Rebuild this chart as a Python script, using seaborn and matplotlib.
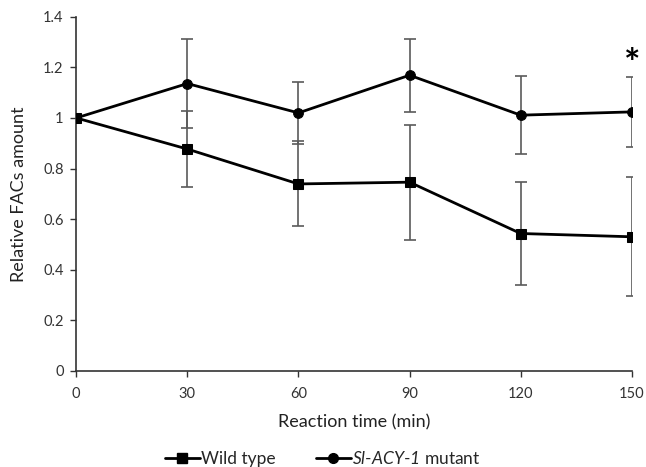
import pandas as pd
import numpy as np
import seaborn as sns
import matplotlib.pyplot as plt
from matplotlib.ticker import FuncFormatter

# values
time = [0, 30, 60, 90, 120, 150]
wild = [1.0, 0.877, 0.739, 0.746, 0.543, 0.530]
wild_err = [0.0, 0.152, 0.168, 0.228, 0.204, 0.235]
mutant = [1.0, 1.136, 1.020, 1.169, 1.011, 1.024]
mutant_err = [0.0, 0.175, 0.122, 0.144, 0.154, 0.139]
x_ticks = [0, 30, 60, 90, 120, 150]
y_ticks = [0, 0.2, 0.4, 0.6, 0.8, 1.0, 1.2, 1.4]

sns.set_style("white")
plt.rcParams['font.family'] = ['Lato', 'DejaVu Sans']
plt.rcParams['mathtext.fontset'] = 'custom'
plt.rcParams['mathtext.it'] = 'Lato:italic'
plt.rcParams['mathtext.rm'] = 'Lato:italic'

df = pd.DataFrame({
    "time": time * 2,
    "amount": wild + mutant,
    "group": ["Wild type"] * len(time) + ["mutant"] * len(time),
})

fig, ax = plt.subplots(figsize=(6.46, 4.67), dpi=100)
fig.subplots_adjust(left=0.118, right=0.978, top=0.964, bottom=0.206)

# error bars first, gray
ax.errorbar(time, wild, yerr=wild_err, fmt="none", ecolor="#5a5a5a",
            elinewidth=1.2, capsize=4, capthick=1.2, zorder=1)
ax.errorbar(time, mutant, yerr=mutant_err, fmt="none", ecolor="#5a5a5a",
            elinewidth=1.2, capsize=4, capthick=1.2, zorder=1)

sns.lineplot(data=df, x="time", y="amount", hue="group", style="group",
             markers={"Wild type": "s", "mutant": "o"}, dashes=False,
             palette={"Wild type": "black", "mutant": "black"},
             markersize=7, linewidth=2, markeredgecolor="black",
             ax=ax, legend=False, zorder=3)

ax.set_xlim(0, 150)
ax.set_ylim(0, 1.4)
ax.set_xticks(x_ticks)
ax.set_yticks(y_ticks)
ax.yaxis.set_major_formatter(FuncFormatter(lambda v, p: f"{v:g}"))
ax.tick_params(axis="both", labelsize=10.5, colors="#333333", length=4,
               width=1, direction="out", bottom=True, left=True)
ax.tick_params(axis="x", pad=8)
ax.tick_params(axis="y", pad=5)
for s in ["top", "right"]:
    ax.spines[s].set_visible(False)
for s in ["left", "bottom"]:
    ax.spines[s].set_color("#333333")
    ax.spines[s].set_linewidth(1.2)

ax.set_xlabel("Reaction time (min)", fontsize=13, color="#222222", labelpad=9)
ax.set_ylabel("Relative FACs amount", fontsize=13, color="#222222", labelpad=12)

# significance mark
ax.text(150, 1.21, "*", ha="center", va="center",
        fontsize=28, fontweight="bold", color="black", clip_on=False)

h1, = ax.plot([], [], color="black", marker="s", markersize=7, linewidth=2)
h2, = ax.plot([], [], color="black", marker="o", markersize=7, linewidth=2)
fig.legend([h1, h2], ["Wild type", r"$Sl$-$ACY$-$1$ mutant"],
           loc="center", bbox_to_anchor=(0.5, 0.018), ncol=2, frameon=False,
           fontsize=12.5, handlelength=2.0, handletextpad=0.1, columnspacing=2.3)

fig.savefig("out.png", dpi=100)
